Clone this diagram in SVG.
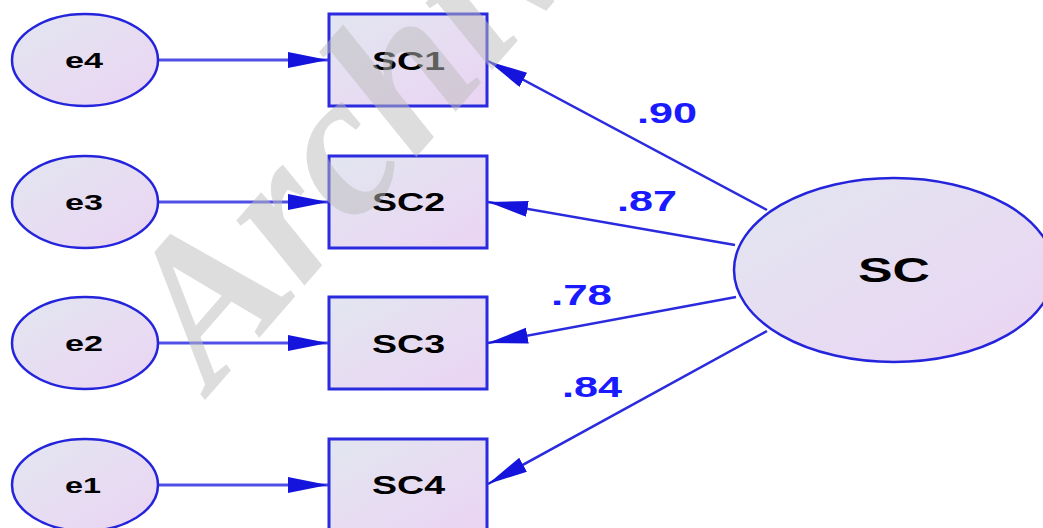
<svg xmlns="http://www.w3.org/2000/svg" width="1043" height="528" viewBox="0 0 1043 528">
  <defs>
    <linearGradient id="nodeFill" x1="0" y1="0" x2="1" y2="1">
      <stop offset="0" stop-color="#e2e6f0"/>
      <stop offset="1" stop-color="#ebd4f3"/>
    </linearGradient>
    <marker id="head" markerUnits="userSpaceOnUse" markerWidth="42" markerHeight="18" refX="40" refY="8" orient="auto">
      <path d="M0,0 L40,8 L0,16 Z" fill="#1414dc"/>
    </marker>
    <style>
      .obs { fill: url(#nodeFill); stroke: #2a2ade; stroke-width: 3; }
      .err { fill: url(#nodeFill); stroke: #2424dc; stroke-width: 2.5; }
      .lat { fill: url(#nodeFill); stroke: #2424dc; stroke-width: 2.5; }
      .edge { fill: none; stroke: #5050e6; stroke-width: 3; }
      .path { fill: none; stroke: #2a2ade; stroke-width: 2.5; }
      .lbl { font-family: "Liberation Sans", Arial, sans-serif; font-weight: bold; fill: #000; }
      .coef { font-family: "Liberation Sans", Arial, sans-serif; font-weight: bold; font-size: 29px; fill: #1a1aff; }
      .mark { font-family: "Liberation Serif", "Times New Roman", serif; font-weight: bold; font-style: italic; font-size: 205px; fill: #bcbcbc; fill-opacity: 0.5; }
    </style>
  </defs>

  <!-- paths: errors to indicators, factor to indicators -->
  <g id="connectors">
    <line class="edge" x1="159" y1="60" x2="328" y2="60" marker-end="url(#head)"/>
    <line class="edge" x1="159" y1="202" x2="328" y2="202" marker-end="url(#head)"/>
    <line class="edge" x1="159" y1="343" x2="328" y2="343" marker-end="url(#head)"/>
    <line class="edge" x1="159" y1="485" x2="328" y2="485" marker-end="url(#head)"/>
    <line class="path" x1="767" y1="210" x2="488" y2="61" marker-end="url(#head)"/>
    <line class="path" x1="735" y1="245" x2="488" y2="202" marker-end="url(#head)"/>
    <line class="path" x1="736" y1="297" x2="488" y2="343" marker-end="url(#head)"/>
    <line class="path" x1="767" y1="331" x2="488" y2="484" marker-end="url(#head)"/>
  </g>

  <!-- standardized loadings -->
  <g id="loadings">
    <text class="coef" x="637" y="123" textLength="60" lengthAdjust="spacingAndGlyphs">.90</text>
    <text class="coef" x="617" y="211" textLength="60" lengthAdjust="spacingAndGlyphs">.87</text>
    <text class="coef" x="551" y="305" textLength="61" lengthAdjust="spacingAndGlyphs">.78</text>
    <text class="coef" x="562" y="397" textLength="60" lengthAdjust="spacingAndGlyphs">.84</text>
  </g>

  <!-- error terms -->
  <g id="e4">
    <ellipse class="err" cx="85" cy="60" rx="73" ry="46"/>
    <text class="lbl" x="65" y="68" font-size="22" textLength="38" lengthAdjust="spacingAndGlyphs">e4</text>
  </g>
  <g id="e3">
    <ellipse class="err" cx="85" cy="202" rx="73" ry="46"/>
    <text class="lbl" x="65" y="210" font-size="22" textLength="38" lengthAdjust="spacingAndGlyphs">e3</text>
  </g>
  <g id="e2">
    <ellipse class="err" cx="85" cy="343" rx="73" ry="46"/>
    <text class="lbl" x="65" y="351" font-size="22" textLength="38" lengthAdjust="spacingAndGlyphs">e2</text>
  </g>
  <g id="e1">
    <ellipse class="err" cx="85" cy="485" rx="73" ry="46"/>
    <text class="lbl" x="65" y="493" font-size="22" textLength="36" lengthAdjust="spacingAndGlyphs">e1</text>
  </g>

  <!-- observed indicators -->
  <g id="SC1">
    <rect class="obs" x="329" y="14" width="158" height="92"/>
    <text class="lbl" x="372" y="70" font-size="26" textLength="73" lengthAdjust="spacingAndGlyphs">SC1</text>
  </g>
  <g id="SC2">
    <rect class="obs" x="329" y="156" width="158" height="92"/>
    <text class="lbl" x="372" y="211" font-size="26" textLength="73" lengthAdjust="spacingAndGlyphs">SC2</text>
  </g>
  <g id="SC3">
    <rect class="obs" x="329" y="297" width="158" height="92"/>
    <text class="lbl" x="372" y="353" font-size="26" textLength="73" lengthAdjust="spacingAndGlyphs">SC3</text>
  </g>
  <g id="SC4">
    <rect class="obs" x="329" y="439" width="158" height="92"/>
    <text class="lbl" x="372" y="494" font-size="26" textLength="73" lengthAdjust="spacingAndGlyphs">SC4</text>
  </g>

  <!-- latent factor -->
  <g id="SC">
    <ellipse class="lat" cx="894" cy="270" rx="160" ry="92"/>
    <text class="lbl" x="858" y="282" font-size="35" textLength="72" lengthAdjust="spacingAndGlyphs">SC</text>
  </g>

  <!-- diagonal watermark -->
  <g id="watermark">
    <text class="mark" transform="translate(212,392) rotate(-49)">Archive</text>
  </g>
</svg>
